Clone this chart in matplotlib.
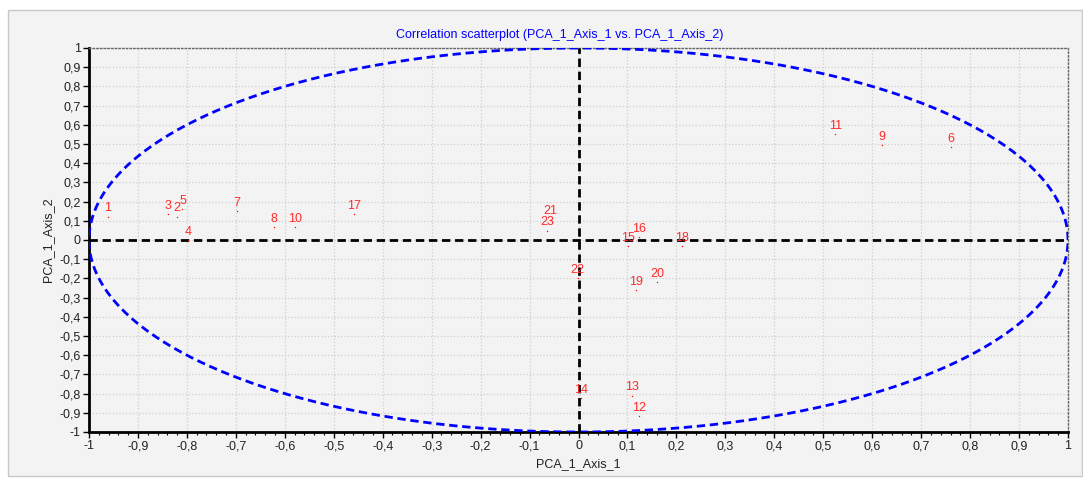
import numpy as np
import matplotlib
matplotlib.use("Agg")
import matplotlib.pyplot as plt
from matplotlib.patches import Rectangle
from matplotlib.ticker import MultipleLocator, FuncFormatter

labels = [str(i) for i in range(1, 24)]
axis1 = [-0.962, -0.820, -0.838, -0.797, -0.809, 0.760, -0.697, -0.623, 0.619, -0.580,
         0.525, 0.124, 0.110, 0.005, 0.102, 0.124, -0.459, 0.211, 0.118, 0.160,
         -0.057, -0.002, -0.064]
axis2 = [0.121, 0.122, 0.134, 0.000, 0.160, 0.483, 0.151, 0.066, 0.493, 0.066,
         0.550, -0.917, -0.810, -0.825, -0.033, 0.014, 0.134, -0.033, -0.260, -0.219,
         0.106, -0.198, 0.048]

plt.rcParams['font.family'] = ['Liberation Sans', 'DejaVu Sans']

W, H = 1083, 479
fig = plt.figure(figsize=(W / 100, H / 100), dpi=100, facecolor='white')
fig.patches.append(Rectangle((8 / W, 3 / H), 1074 / W, 466 / H, transform=fig.transFigure,
                             facecolor='#f3f3f3', edgecolor='#c8c8c8', lw=1, zorder=-10))

ax = fig.add_axes([89 / W, 1 - 432 / H, (1068 - 89) / W, (432 - 48) / H])
ax.set_zorder(1)
ax.set_facecolor('#f3f3f3')
ax.set_xlim(-1, 1)
ax.set_ylim(-1, 1)

ax.xaxis.set_major_locator(MultipleLocator(0.1))
ax.yaxis.set_major_locator(MultipleLocator(0.1))
ax.xaxis.set_minor_locator(MultipleLocator(0.02))
fmt = FuncFormatter(lambda v, p: ('%g' % round(v, 2)).replace('.', ','))
ax.xaxis.set_major_formatter(fmt)
ax.yaxis.set_major_formatter(fmt)
ax.grid(True, which='major', color='#cfcfcf', linestyle=':', linewidth=0.9)
ax.set_axisbelow(True)

ax.tick_params(axis='both', which='major', labelsize=9, length=4, width=1, color='black',
               labelcolor='#222222', direction='out', pad=2)
ax.tick_params(axis='x', which='minor', length=2.5, width=0.8, direction='out')

for s in ['left', 'bottom']:
    ax.spines[s].set_linewidth(2)
    ax.spines[s].set_color('black')
for s in ['top', 'right']:
    ax.spines[s].set_linewidth(1)
    ax.spines[s].set_color('#666666')
    ax.spines[s].set_linestyle(':')

t = np.linspace(0, 2 * np.pi, 600)
ax.plot(np.cos(t), np.sin(t), color='#0000ff', lw=2, ls=(0, (3, 1.7)), zorder=3)
ax.axhline(0, color='black', lw=2, ls=(0, (3, 1.7)), zorder=3)
ax.axvline(0, color='black', lw=2, ls=(0, (3, 1.7)), zorder=3)

ax.scatter(axis1, axis2, s=1, color='red', zorder=4, linewidths=0)
for lab, x, y in zip(labels, axis1, axis2):
    ax.annotate(lab, (x, y), xytext=(0, 6), textcoords='offset points', ha='center',
                va='center', color='#ff2a2a', fontsize=9, zorder=5)

ax.set_xlabel('PCA_1_Axis_1', fontsize=9, labelpad=4, color='#222222')
ax.set_ylabel('PCA_1_Axis_2', fontsize=9, labelpad=4, color='#222222')

fig.text(560 / W, 1 - 35 / H, 'Correlation scatterplot (PCA_1_Axis_1 vs. PCA_1_Axis_2)',
         color='#0000ff', fontsize=9, ha='center', va='center')

fig.savefig('out.png', dpi=100, facecolor='white')
